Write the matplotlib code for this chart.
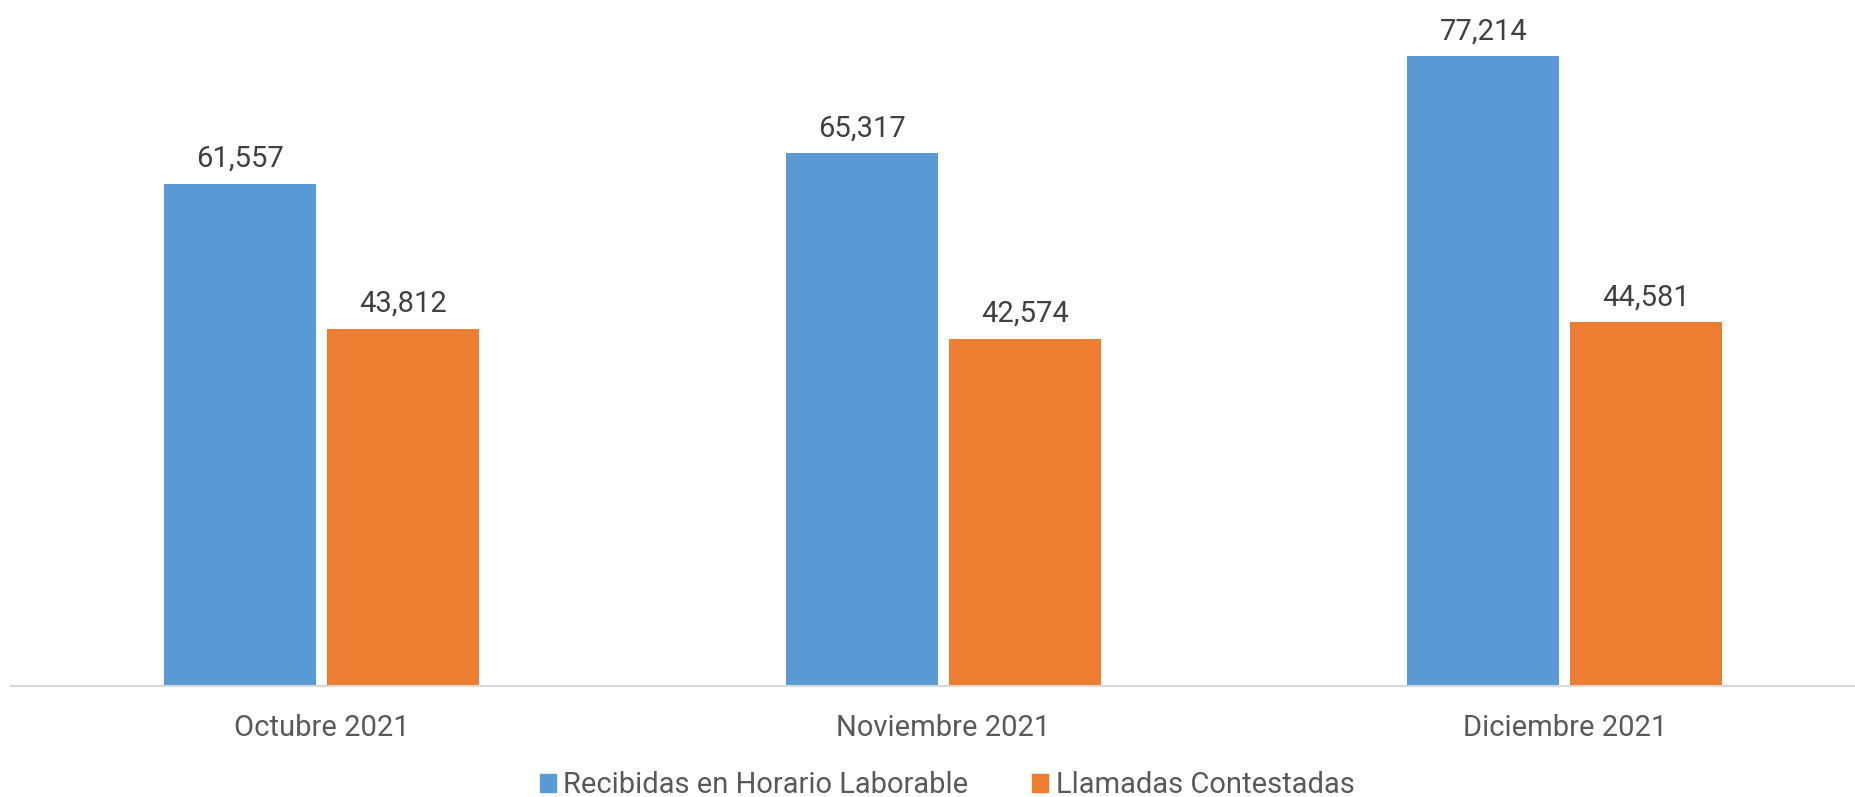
import matplotlib
matplotlib.use("Agg")
import matplotlib.pyplot as plt
import numpy as np
from matplotlib.patches import Patch

months = ["Octubre 2021", "Noviembre 2021", "Diciembre 2021"]
series_names = ["Recibidas en Horario Laborable", "Llamadas Contestadas"]
recibidas = [61557, 65317, 77214]
contestadas = [43812, 42574, 44581]
colors = ["#5B9BD5", "#ED7D31"]

plt.rcParams["font.family"] = ["Roboto", "DejaVu Sans"]

W, H = 1855, 797
fig = plt.figure(figsize=(W / 100, H / 100), dpi=100)
# axis spans from x=10.7 px and extends past the right edge
ax_left, ax_bottom = 10.7, H - 686
ax_w, ax_h = 1865.0, 686.0
ax = fig.add_axes([ax_left / W, ax_bottom / H, ax_w / W, ax_h / H])

x = np.arange(len(months))
bw = 0.2445
gap = 0.0177
b1 = ax.bar(x - (bw + gap) / 2, recibidas, width=bw, color=colors[0])
b2 = ax.bar(x + (bw + gap) / 2, contestadas, width=bw, color=colors[1])

for bars in (b1, b2):
    ax.bar_label(bars, labels=[f"{v:,}" for v in bars.datavalues],
                 padding=8, fontsize=21, color="#404040")

ax.set_xlim(-0.5, 2.5)
ax.set_ylim(0, 84120)
ax.set_xticks(x)
ax.set_xticklabels(months, fontsize=21, color="#595959")
ax.tick_params(axis="x", length=0, pad=20)
ax.set_yticks([])
for s in ("left", "right", "top"):
    ax.spines[s].set_visible(False)
ax.spines["bottom"].set_color("#D9D9D9")
ax.spines["bottom"].set_linewidth(1.5)

handles = [Patch(color=c) for c in colors]
fig.legend(handles, series_names, loc="center", bbox_to_anchor=(0.5105, 0.015),
           ncol=2, frameon=False, fontsize=21, labelcolor="#595959",
           handlelength=0.55, handleheight=0.55, handletextpad=0.25,
           columnspacing=2.2)

fig.savefig("out.png", dpi=100)
